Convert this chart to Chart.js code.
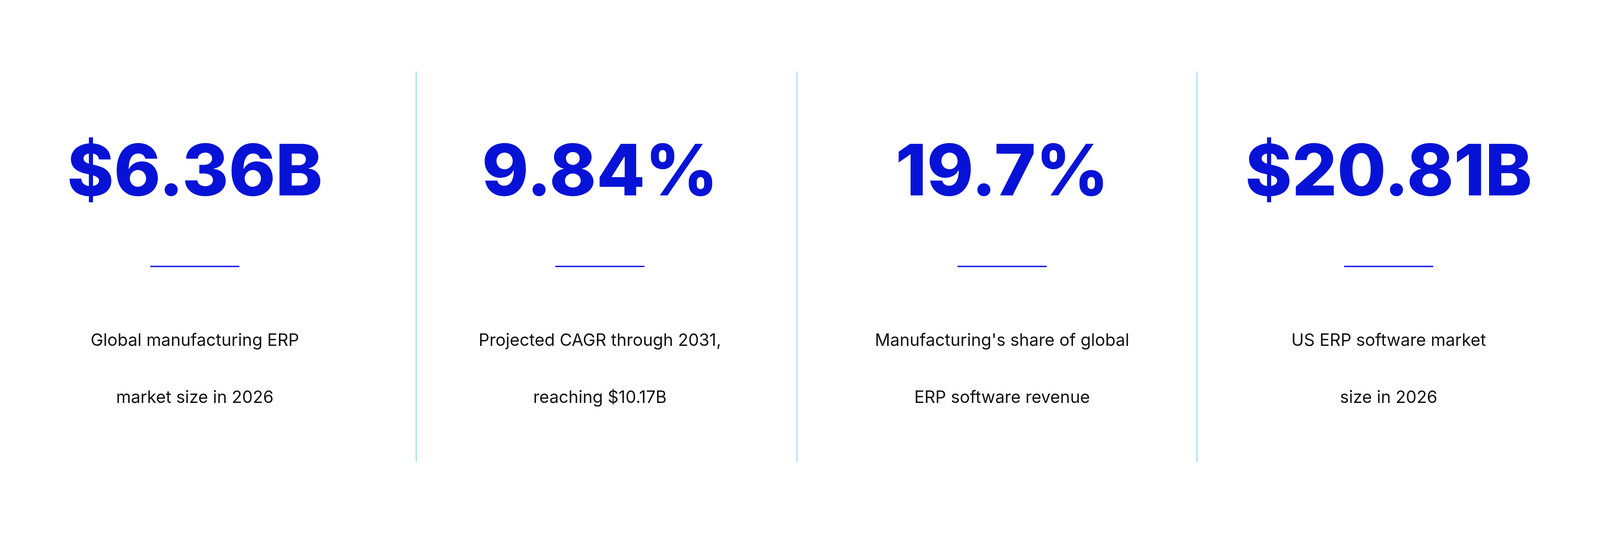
<!DOCTYPE html>
<html><head><meta charset="utf-8">
<script src="https://cdn.jsdelivr.net/npm/chart.js@4/dist/chart.umd.min.js"></script>
<style>html,body{margin:0;padding:0;background:#fff;overflow:hidden}#w{position:fixed;left:0;top:0;width:100vw;height:100vh}</style>
</head><body><div id="w"><canvas id="c"></canvas></div>
<script>
const stats = ["$6.36B", "9.84%", "19.7%", "$20.81B"];
const labelLine1 = ["Global manufacturing ERP", "Projected CAGR through 2031,", "Manufacturing's share of global", "US ERP software market"];
const labelLine2 = ["market size in 2026", "reaching $10.17B", "ERP software revenue", "size in 2026"];

// layout (not data), in reference pixel units
const centers = [875, 2694, 4500, 6236];
const dividers = [1869, 3579, 5375];

const statPlugin = {
  id: 'stats',
  afterDraw(chart) {
    const ctx = chart.ctx, xs = chart.scales.x, ys = chart.scales.y;
    const k = Math.min(chart.width / 7185, chart.height / 1374);
    ctx.save();
    ctx.strokeStyle = '#8fd3f0'; ctx.lineWidth = Math.max(1, 4 * k);
    dividers.forEach(d => {
      ctx.beginPath();
      ctx.moveTo(xs.getPixelForValue(d), ys.getPixelForValue(183));
      ctx.lineTo(xs.getPixelForValue(d), ys.getPixelForValue(1182));
      ctx.stroke();
    });
    stats.forEach((s, i) => {
      const x = xs.getPixelForValue(centers[i]);
      ctx.textAlign = 'center'; ctx.textBaseline = 'middle';
      ctx.fillStyle = '#0613d6';
      ctx.font = '800 ' + (318 * k) + 'px Inter';
      ctx.fillText(s, x, ys.getPixelForValue(445));
      ctx.fillStyle = '#1010e8';
      ctx.fillRect(x - 200 * k, ys.getPixelForValue(680), 400 * k, Math.max(1, 6 * k));
      ctx.fillStyle = '#111';
      ctx.font = '400 ' + (76 * k) + 'px Inter';
      ctx.fillText(labelLine1[i], x, ys.getPixelForValue(872));
      ctx.fillText(labelLine2[i], x, ys.getPixelForValue(1018));
    });
    ctx.restore();
  }
};

new Chart(document.getElementById('c'), {
  type: 'scatter',
  data: { datasets: [{ data: stats.map((s, i) => ({ x: centers[i], y: 445 })), pointRadius: 0 }] },
  options: {
    responsive: true, maintainAspectRatio: false, animation: false,
    layout: { padding: 0 },
    plugins: { legend: { display: false }, tooltip: { enabled: false } },
    scales: {
      x: { type: 'linear', min: 0, max: 7185, display: false },
      y: { type: 'linear', min: 0, max: 1374, reverse: true, display: false }
    }
  },
  plugins: [statPlugin]
});
</script></body></html>
